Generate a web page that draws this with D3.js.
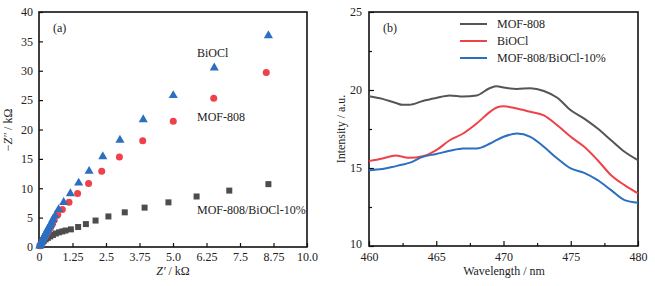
<!DOCTYPE html>
<html>
<head>
<meta charset="utf-8">
<script src="https://cdn.jsdelivr.net/npm/d3@7"></script>
<style>
  body { margin: 0; background: #fff; }
  svg text { font-family: "Liberation Serif", "DejaVu Serif", serif; fill: #222; }
</style>
</head>
<body>
<div id="chart"></div>
<script>
// (a) Nyquist plots  [Z', -Z'']
const biocl = [[0.03,0.2],[0.06,0.5],[0.09,0.8],[0.12,1.1],[0.15,1.4],[0.18,1.7],[0.21,2.0],[0.25,2.3],[0.28,2.6],[0.32,2.9],[0.35,3.2],[0.39,3.5],[0.43,3.8],[0.47,4.2],[0.52,4.7],[0.6,5.3],[0.73,6.4],[0.92,7.6],[1.17,9.1],[1.48,10.9],[1.87,12.9],[2.38,15.4],[3.02,18.2],[3.89,21.7],[5.01,25.8],[6.54,30.5],[8.56,36.0]];
const mof808 = [[0.04,0.2],[0.08,0.5],[0.12,0.9],[0.17,1.3],[0.22,1.7],[0.27,2.1],[0.32,2.5],[0.38,2.9],[0.44,3.4],[0.5,3.9],[0.57,4.6],[0.7,5.5],[0.87,6.4],[1.12,7.6],[1.44,9.1],[1.85,10.8],[2.34,12.9],[3.0,15.3],[3.87,18.1],[5.01,21.4],[6.52,25.3],[8.48,29.7]];
const composite = [[0.03,0.2],[0.07,0.5],[0.12,0.8],[0.18,1.05],[0.25,1.3],[0.33,1.55],[0.42,1.8],[0.52,2.05],[0.63,2.3],[0.75,2.5],[0.87,2.65],[0.99,2.8],[1.19,3.0],[1.46,3.4],[1.75,3.9],[2.11,4.5],[2.59,5.2],[3.2,5.9],[3.94,6.7],[4.83,7.6],[5.88,8.6],[7.1,9.6],[8.56,10.7]];
const xTicksA = [0, 1.25, 2.5, 3.75, 5.0, 6.25, 7.5, 8.75, 10.0];
const xTickLabelsA = ["0", "1.25", "2.5", "3.75", "5.0", "6.25", "7.5", "8.75", "10.0"];
const yTicksA = [0, 5, 10, 15, 20, 25, 30, 35, 40];

// (b) PL spectra
const wavelength = [460,461,462,462.5,463,464,465,466,467,468,469,469.5,470,471,472,473,474,475,476,477,478,479,480];
const plMof = [19.6,19.43,19.17,19.05,19.05,19.3,19.49,19.65,19.58,19.65,20.13,20.24,20.16,20.07,20.11,19.94,19.5,18.7,18.17,17.53,16.78,16.04,15.5];
const plBiocl = [15.44,15.61,15.8,15.72,15.65,15.75,16.14,16.78,17.21,17.85,18.6,18.88,18.96,18.81,18.6,18.38,17.74,17.0,16.36,15.5,14.54,13.9,13.37];
const plComp = [14.86,14.93,15.12,15.22,15.33,15.72,15.9,16.1,16.25,16.25,16.57,16.8,17.0,17.21,17.0,16.36,15.61,14.97,14.69,14.22,13.58,12.94,12.77];
const xTicksB = [460, 465, 470, 475, 480];
const yTicksB = [10, 15, 20, 25];
const legendNames = ["MOF-808", "BiOCl", "MOF-808/BiOCl-10%"];

const grey = "#555555", red = "#ef4149", blue = "#2b6fc0";
const FONT = '"Liberation Serif", "DejaVu Serif", serif';

const svg = d3.select("#chart").append("svg")
    .attr("width", 655)
    .attr("height", 286)
    .attr("font-family", FONT);

function frame(g, x0, x1, y0, y1) {
    g.append("rect")
        .attr("x", x0).attr("y", y0)
        .attr("width", x1 - x0).attr("height", y1 - y0)
        .attr("fill", "none")
        .attr("stroke", "#111")
        .attr("stroke-width", 1.6);
}

function styleAxis(sel) {
    sel.attr("font-family", FONT).attr("font-size", 12);
    sel.select(".domain").remove();
    sel.selectAll(".tick line").attr("stroke", "#111").attr("stroke-width", 1.2);
    sel.selectAll("text").attr("fill", "#222");
}

// ---------- panel (a) ----------
const xA = d3.scaleLinear().domain([0, 10]).range([39, 307]);
const yA = d3.scaleLinear().domain([0, 40]).range([247, 12]);
const gA = svg.append("g");

gA.append("g")
    .attr("transform", `translate(0,${yA(0)})`)
    .call(d3.axisBottom(xA).tickValues(xTicksA)
        .tickFormat((d, i) => xTickLabelsA[i])
        .tickSizeInner(-4).tickSizeOuter(0).tickPadding(5))
    .call(styleAxis);

gA.append("g")
    .attr("transform", `translate(${xA(0)},0)`)
    .call(d3.axisLeft(yA).tickValues(yTicksA)
        .tickSizeInner(-4).tickSizeOuter(0).tickPadding(6))
    .call(styleAxis);

frame(gA, xA(0), xA(10), yA(40), yA(0));

// markers
gA.selectAll(".sq").data(composite).enter().append("rect")
    .attr("x", d => xA(d[0]) - 3)
    .attr("y", d => yA(d[1]) - 3)
    .attr("width", 6).attr("height", 6)
    .attr("fill", "#4d4d4d");

gA.selectAll(".ci").data(mof808).enter().append("circle")
    .attr("cx", d => xA(d[0]))
    .attr("cy", d => yA(d[1]))
    .attr("r", 3.5)
    .attr("fill", red);

const tri = d3.symbol().type(d3.symbolTriangle).size(36);
gA.selectAll(".tr").data(biocl).enter().append("path")
    .attr("d", tri)
    .attr("transform", d => `translate(${xA(d[0])},${yA(d[1])})`)
    .attr("fill", blue);

gA.append("text").attr("x", 53).attr("y", 32).style("font-size", "12px").text("(a)");
gA.append("text").attr("x", 197).attr("y", 57).style("font-size", "12px").text("BiOCl");
gA.append("text").attr("x", 197).attr("y", 121).style("font-size", "12px").text("MOF-808");
gA.append("text").attr("x", 197).attr("y", 214).style("font-size", "12px").text("MOF-808/BiOCl-10%");

const xtA = gA.append("text").attr("x", 173).attr("y", 275)
    .attr("text-anchor", "middle").style("font-size", "12px");
xtA.append("tspan").style("font-style", "italic").text("Z\u2032");
xtA.append("tspan").text(" / k\u03A9");

const ytA = gA.append("text")
    .attr("transform", "translate(12,130) rotate(-90)")
    .attr("text-anchor", "middle").style("font-size", "12px");
ytA.append("tspan").text("\u2212");
ytA.append("tspan").style("font-style", "italic").text("Z\u2033");
ytA.append("tspan").text(" / k\u03A9");

// ---------- panel (b) ----------
const xB = d3.scaleLinear().domain([460, 480]).range([369, 638]);
const yB = d3.scaleLinear().domain([10, 25]).range([246, 12]);
const gB = svg.append("g");

gB.append("g")
    .attr("transform", `translate(0,${yB(10)})`)
    .call(d3.axisBottom(xB).tickValues(d3.range(460, 480.1, 2.5))
        .tickFormat(d => xTicksB.includes(d) ? d : "")
        .tickSizeInner(-4).tickSizeOuter(0).tickPadding(6))
    .call(styleAxis)
    .selectAll(".tick line").attr("y2", (d) => xTicksB.includes(d) ? -5 : -3);

const yAxB = gB.append("g")
    .attr("transform", `translate(${xB(460)},0)`)
    .call(d3.axisLeft(yB).tickValues(d3.range(10, 25.1, 2.5))
        .tickFormat(d => yTicksB.includes(d) ? d : "")
        .tickSizeInner(-4).tickSizeOuter(0).tickPadding(7))
    .call(styleAxis);
yAxB.selectAll(".tick line").attr("x2", (d) => yTicksB.includes(d) ? 5 : 3);
// lowest label sits a little higher, as in the original
yAxB.selectAll(".tick text").filter(d => d === 10).attr("dy", "0.1em");

frame(gB, xB(460), xB(480), yB(25), yB(10));

const line = d3.line()
    .x((d, i) => xB(wavelength[i]))
    .y(d => yB(d))
    .curve(d3.curveMonotoneX);

const series = [[plMof, grey], [plBiocl, red], [plComp, blue]];
series.forEach(([vals, col]) => {
    gB.append("path")
        .datum(vals)
        .attr("fill", "none")
        .attr("stroke", col)
        .attr("stroke-width", 2)
        .attr("d", line);
});

// legend
legendNames.forEach((name, i) => {
    const y = 24 + i * 17;
    gB.append("line")
        .attr("x1", 460).attr("x2", 487)
        .attr("y1", y).attr("y2", y)
        .attr("stroke", series[i][1]).attr("stroke-width", 2);
    gB.append("text").attr("x", 497).attr("y", y + 4)
        .style("font-size", "12px").text(name);
});

gB.append("text").attr("x", 383).attr("y", 32).style("font-size", "12px").text("(b)");

gB.append("text").attr("x", 504).attr("y", 275)
    .attr("text-anchor", "middle").style("font-size", "12px").text("Wavelength / nm");

gB.append("text")
    .attr("transform", "translate(345,129) rotate(-90)")
    .attr("text-anchor", "middle").style("font-size", "12px").text("Intensity / a.u.");
</script>
</body>
</html>
